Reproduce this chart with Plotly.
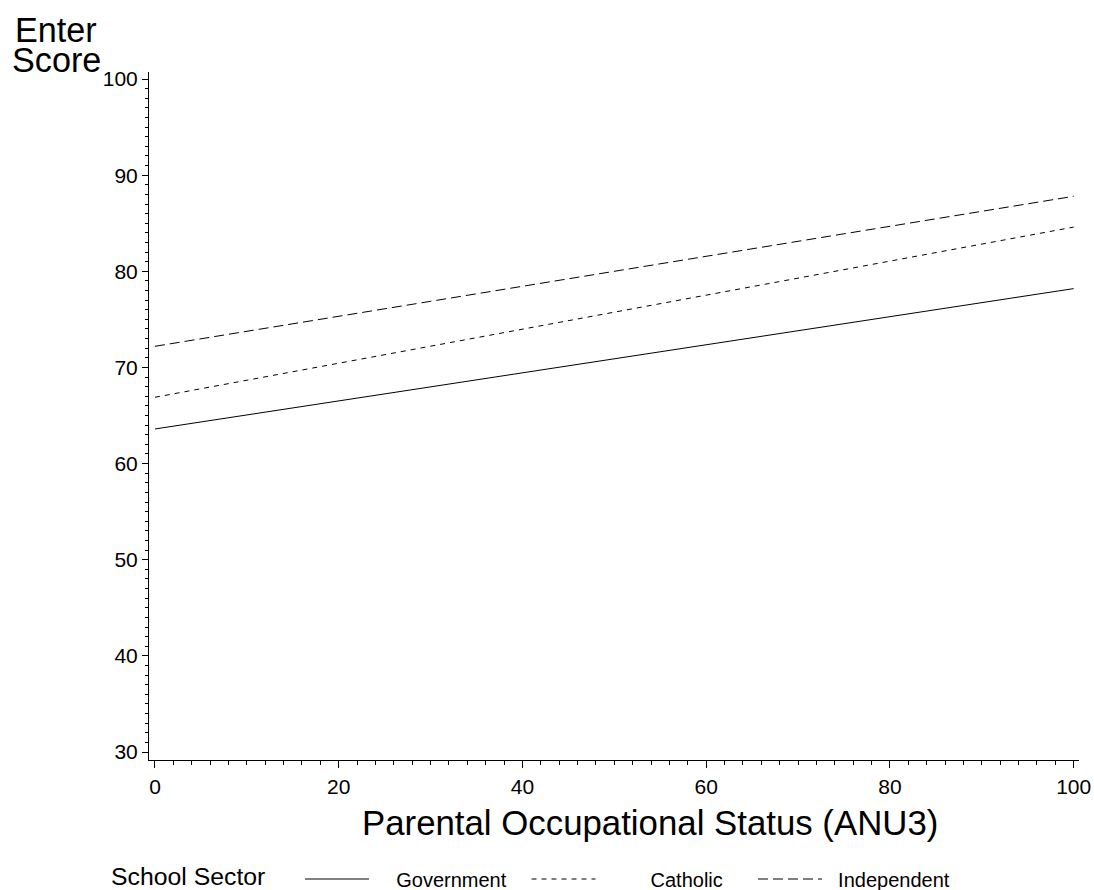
import plotly.graph_objects as go

# Data
occ_status = [0, 100]
sectors = ["Government", "Catholic", "Independent"]
government = [63.6, 78.2]
catholic = [66.9, 84.6]
independent = [72.2, 87.8]
x_ticks = [0, 20, 40, 60, 80, 100]
y_ticks = [30, 40, 50, 60, 70, 80, 90, 100]

FONT = "Liberation Sans, Arial, Helvetica, sans-serif"
series = [government, catholic, independent]
dashes = ["solid", "5px,5px", "10px,5px"]
label_pad = [4, 9, 2]  # visual gap between legend sample and its label

W, H = 1094, 890
L, R, T, B = 149, 15, 72, 130
pw, ph = W - L - R, H - T - B

def px_x(p):
    return (p - L) / pw

def px_y(p):
    return (H - B - p) / ph

fig = go.Figure()
for name, vals, dash, pad in zip(sectors, series, dashes, label_pad):
    fig.add_trace(go.Scatter(
        x=occ_status, y=vals, mode="lines", name="\u00a0" * pad + name,
        line=dict(color="black", width=1, dash=dash),
    ))

fig.update_layout(
    width=W, height=H, autosize=False,
    margin=dict(l=L, r=R, t=T, b=B, pad=0, autoexpand=False),
    paper_bgcolor="white", plot_bgcolor="white",
    font=dict(family=FONT, color="black"),
    showlegend=True,
    legend=dict(
        orientation="h", x=px_x(300), xanchor="left",
        y=px_y(879), yanchor="middle",
        font=dict(size=20, family=FONT),
        itemwidth=64,
        entrywidth=147.5, entrywidthmode="pixels",
        bgcolor="rgba(0,0,0,0)", borderwidth=0,
    ),
    xaxis=dict(
        range=[-0.65, 100.58], tickvals=x_ticks,
        showline=True, linecolor="black", linewidth=1,
        ticks="outside", ticklen=7, tickcolor="black", tickwidth=1,
        minor=dict(dtick=2, ticks="outside", ticklen=4, tickcolor="black", tickwidth=1),
        showgrid=False, zeroline=False, automargin=False,
        tickfont=dict(size=21, family=FONT),
        ticklabelstandoff=1,
    ),
    yaxis=dict(
        range=[29.17, 100.73], tickvals=y_ticks,
        showline=True, linecolor="black", linewidth=1,
        ticks="outside", ticklen=6, tickcolor="black", tickwidth=1,
        minor=dict(dtick=1, ticks="outside", ticklen=3, tickcolor="black", tickwidth=1),
        showgrid=False, zeroline=False, automargin=False,
        tickfont=dict(size=21, family=FONT),
    ),
    annotations=[
        dict(text="Parental Occupational Status (ANU3)", xref="paper", yref="paper",
             x=px_x(649.5), y=px_y(822), xanchor="center", yanchor="middle",
             showarrow=False, font=dict(size=34.8, family=FONT)),
        dict(text="Enter", xref="paper", yref="paper",
             x=px_x(56), y=px_y(30), xanchor="center", yanchor="middle",
             showarrow=False, font=dict(size=34.2, family=FONT)),
        dict(text="Score", xref="paper", yref="paper",
             x=px_x(56), y=px_y(60), xanchor="center", yanchor="middle",
             showarrow=False, font=dict(size=34.2, family=FONT)),
        dict(text="School Sector", xref="paper", yref="paper",
             x=px_x(109), y=px_y(876), xanchor="left", yanchor="middle",
             showarrow=False, font=dict(size=24.8, family=FONT)),
    ],
)

fig.write_html(
    "out.html",
    config={"displayModeBar": False},
    post_script="document.documentElement.style.overflow='hidden';"
                "document.body.style.margin='0';document.body.style.overflow='hidden';",
)
